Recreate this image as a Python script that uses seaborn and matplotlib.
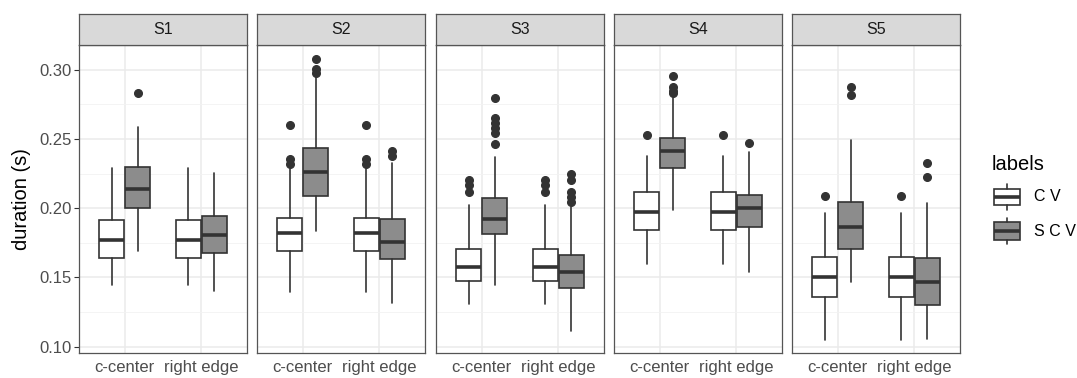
import matplotlib
matplotlib.use("Agg")
import matplotlib.pyplot as plt
import seaborn as sns

sns.set_theme(style="whitegrid")
plt.rcParams["font.family"] = ["Liberation Sans", "DejaVu Sans"]

speakers = ["S1", "S2", "S3", "S4", "S5"]
positions = ["c-center", "right edge"]
labels = ["C V", "S C V"]

# five-number summaries per speaker: [whisker low, q1, median, q3, whisker high]
cv_center = [
    [0.1445, 0.1638, 0.1768, 0.1915, 0.2290],
    [0.1392, 0.1689, 0.1819, 0.1932, 0.2282],
    [0.1306, 0.1477, 0.1578, 0.1703, 0.2024],
    [0.1595, 0.1845, 0.1973, 0.2115, 0.2378],
    [0.1048, 0.1361, 0.1501, 0.1650, 0.1966],
]
cv_edge = [
    [0.1445, 0.1638, 0.1768, 0.1915, 0.2290],
    [0.1392, 0.1689, 0.1819, 0.1932, 0.2282],
    [0.1306, 0.1477, 0.1578, 0.1703, 0.2024],
    [0.1595, 0.1845, 0.1973, 0.2115, 0.2378],
    [0.1048, 0.1361, 0.1501, 0.1650, 0.1966],
]
scv_center = [
    [0.1694, 0.2000, 0.2142, 0.2301, 0.2586],
    [0.1838, 0.2091, 0.2262, 0.2436, 0.2952],
    [0.1445, 0.1814, 0.1920, 0.2072, 0.2369],
    [0.1988, 0.2294, 0.2414, 0.2506, 0.2795],
    [0.1469, 0.1706, 0.1862, 0.2046, 0.2494],
]
scv_edge = [
    [0.1404, 0.1674, 0.1809, 0.1947, 0.2258],
    [0.1313, 0.1633, 0.1756, 0.1923, 0.2325],
    [0.1113, 0.1421, 0.1537, 0.1662, 0.2012],
    [0.1537, 0.1865, 0.2005, 0.2096, 0.2407],
    [0.1055, 0.1300, 0.1469, 0.1638, 0.2041],
]

# outliers
cv_center_out = [[], [0.2602, 0.2354, 0.2320], [0.2205, 0.2169, 0.2120], [0.2532], [0.2091]]
cv_edge_out = [[], [0.2602, 0.2354, 0.2320], [0.2205, 0.2169, 0.2120], [0.2532], [0.2091]]
scv_center_out = [
    [0.2831],
    [0.3077, 0.3005, 0.2976],
    [0.2800, 0.2651, 0.2615, 0.2578, 0.2542, 0.2465],
    [0.2957, 0.2880, 0.2851, 0.2836],
    [0.2880, 0.2817],
]
scv_edge_out = [[], [0.2417, 0.2378], [0.2246, 0.2205, 0.2120, 0.2084, 0.2048], [0.2475], [0.2330, 0.2224]]

fills = ["#FFFFFF", "#8C8C8C"]
edge = "#333333"
W, H = 1077, 378


def make_stats(five, fliers):
    lo, q1, med, q3, hi = five
    return dict(whislo=lo, q1=q1, med=med, q3=q3, whishi=hi, fliers=fliers)


def draw_boxes(ax, stats, pos, width, fill):
    ax.bxp(stats, positions=pos, widths=width, patch_artist=True, showcaps=False,
           boxprops=dict(facecolor=fill, edgecolor=edge, linewidth=1.2),
           medianprops=dict(color=edge, linewidth=2.6, solid_capstyle="butt"),
           whiskerprops=dict(color=edge, linewidth=1.2),
           flierprops=dict(marker="o", markerfacecolor=edge, markeredgecolor=edge, markersize=5.5))


fig = plt.figure(figsize=(W / 100, H / 100), dpi=100)
lefts = [79, 257, 436, 614, 792]
pw = 168

for i, spk in enumerate(speakers):
    ax = fig.add_axes([lefts[i] / W, 1 - 353 / H, pw / W, (353 - 45) / H])
    ax.set_axisbelow(True)
    series = [(cv_center, cv_edge, cv_center_out, cv_edge_out),
              (scv_center, scv_edge, scv_center_out, scv_edge_out)]
    for k, (c, e, co, eo) in enumerate(series):
        off = -0.17 if k == 0 else 0.17
        stats = [make_stats(c[i], co[i]), make_stats(e[i], eo[i])]
        draw_boxes(ax, stats, [1 + off, 2 + off], 0.33, fills[k])
    ax.set_xlim(0.4, 2.6)
    ax.set_ylim(0.0954, 0.318)
    ax.set_xticks([1, 2])
    ax.set_xticklabels(positions)
    ax.set_yticks([0.10, 0.15, 0.20, 0.25, 0.30])
    ax.set_yticks([0.125, 0.175, 0.225, 0.275], minor=True)
    ax.grid(which="major", color="#EBEBEB", linewidth=1.1)
    ax.grid(which="minor", axis="y", color="#F2F2F2", linewidth=0.6)
    ax.set_facecolor("white")
    for s in ax.spines.values():
        s.set_color("#555555")
        s.set_linewidth(0.9)
    ax.tick_params(axis="both", which="major", length=3.8, width=0.8, color="#333333",
                   labelsize=12, labelcolor="#4D4D4D", pad=1.2)
    ax.tick_params(axis="both", which="minor", length=0)
    if i == 0:
        ax.yaxis.set_major_formatter(matplotlib.ticker.FormatStrFormatter("%.2f"))
    else:
        ax.tick_params(axis="y", left=False, labelleft=False)
    ax.tick_params(axis="y", left=(i == 0))

    sax = fig.add_axes([lefts[i] / W, 1 - 45 / H, pw / W, 31 / H])
    sax.set_facecolor("#D9D9D9")
    sax.set_xticks([])
    sax.set_yticks([])
    sax.grid(False)
    for s in sax.spines.values():
        s.set_color("#555555")
        s.set_linewidth(0.9)
    sax.text(0.5, 0.5, spk, ha="center", va="center", fontsize=11.5, color="#1A1A1A",
             transform=sax.transAxes)

fig.text(22 / W, 1 - 199 / H, "duration (s)", rotation=90, ha="center", va="center",
         fontsize=14.5, color="black")

# legend drawn in a small axes in pixel-like units
lax = fig.add_axes([975 / W, 1 - 250 / H, 100 / W, 82 / H])
lax.set_xlim(0, 100)
lax.set_ylim(80, 0)
lax.axis("off")
fig.text(992 / W, 1 - 170 / H, "labels", ha="left", va="baseline", fontsize=14.5, color="black")
key_stats = [dict(whislo=41, q1=36, med=28, q3=20, whishi=16, fliers=[]),
             dict(whislo=74, q1=70, med=61.5, q3=53, whishi=49, fliers=[])]
for k in range(2):
    draw_boxes(lax, [key_stats[k]], [32], 26, fills[k])
    lax.text(59, key_stats[k]["med"], labels[k], ha="left", va="center", fontsize=11.5,
             color="black")

fig.savefig("out.png", dpi=100)
